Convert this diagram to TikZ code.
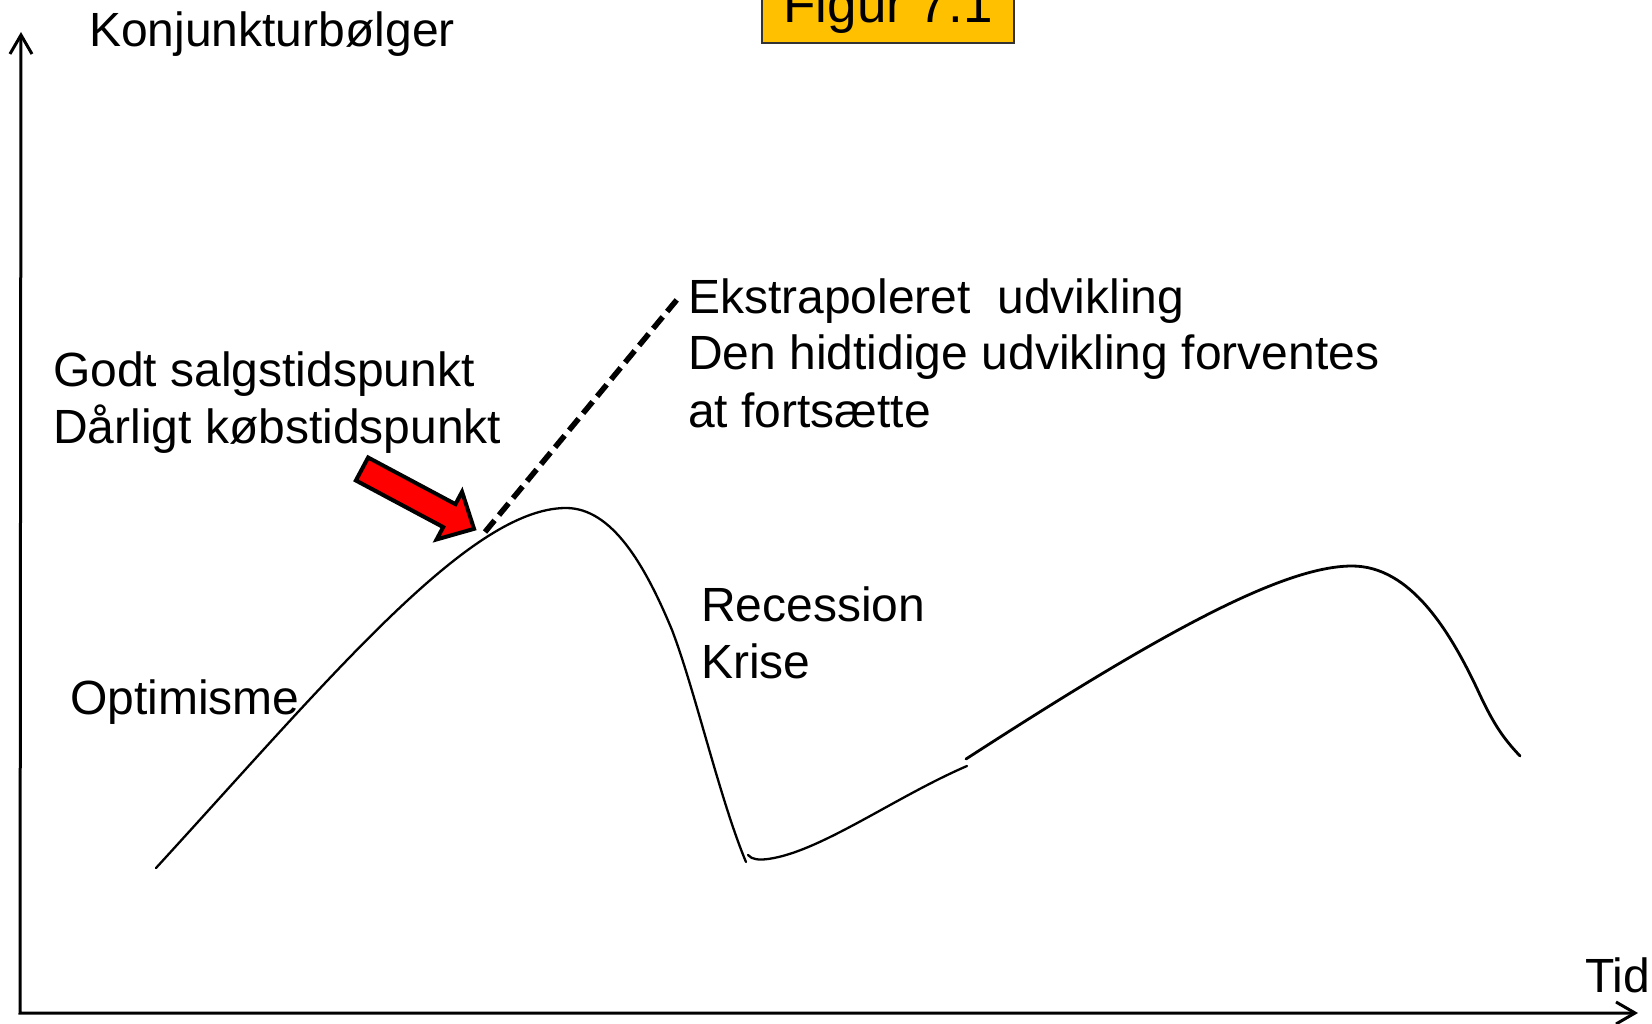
\documentclass[tikz,border=0pt]{standalone}
\usepackage{fontspec}
\setmainfont{Liberation Sans}
\usetikzlibrary{arrows.meta}
\definecolor{titlefill}{HTML}{FFC000}
\begin{document}
\begin{tikzpicture}[x=1pt,y=-1pt,
  lbl/.style={anchor=base west, inner sep=0pt, font=\fontsize{48}{57}\selectfont},
  titlebox/.style={draw=black!80, line width=2pt, fill=titlefill, minimum width=252pt, minimum height=69pt, inner sep=0pt, font=\fontsize{53}{60}\selectfont},
  axisline/.style={line width=3pt, {Straight Barb[length=19pt,width=22pt]}-{Straight Barb[length=19pt,width=22pt]}},
  wave/.style={line width=2.3pt, line cap=round, line join=round},
  extrap/.style={line width=5.5pt, dash pattern=on 15pt off 7pt},
  blockarrow/.style={fill=red, draw=black, line width=4pt, line join=miter}
]
\useasboundingbox (0,0) rectangle (1652,1024);
\fill[white] (0,0) rectangle (1652,1024);

% axes
\coordinate (ytip) at (21,32);
\coordinate (orig) at (20,1013);
\coordinate (xtip) at (1638,1013);
\draw[axisline] (ytip) -- (orig) -- (xtip);

% title
\node[titlebox] (title) at (888,8.5) {Figur 7.1};

% labels
\node[lbl] (yl) at (89,47) {Konjunkturbølger};
\node[lbl] (godt) at (53,386) {Godt salgstidspunkt};
\node[lbl] (daar) at (53,443) {Dårligt købstidspunkt};
\node[lbl] (opt) at (70,714) {Optimisme};
\node[lbl] (ekst) at (688,313) {Ekstrapoleret\ \ udvikling};
\node[lbl] (den) at (688,370) {Den hidtidige udvikling forventes};
\node[lbl] (fort) at (688,427) {at fortsætte};
\node[lbl] (rec) at (701,621) {Recession};
\node[lbl] (kri) at (701,678) {Krise};
\node[lbl] (tid) at (1585,992) {Tid};

% business cycle curve
\draw[wave] (156,868) .. controls (330,678) and (470,508) .. (566,508)
  .. controls (612,508) and (645,565) .. (672,630)
  .. controls (695,690) and (720,800) .. (746,862);
\draw[wave] (748,855) .. controls (752,860) and (760,860) .. (768,859)
  .. controls (820,852) and (895,797) .. (967,766);
\draw[wave, line width=2.8pt] (966,759) .. controls (1150,640) and (1280,566) .. (1352,566)
  .. controls (1410,566) and (1450,630) .. (1480,695)
  .. controls (1495,727) and (1505,740) .. (1520,756);

% extrapolated development
\coordinate (dashA) at (485,532);
\coordinate (dashB) at (680,296);
\draw[extrap] (dashA) -- (dashB);

% red block arrow
\begin{scope}[shift={(362,469)}, rotate=-28.1]
\draw[blockarrow] (0,-13) -- (99,-13) -- (99,-27) -- (127,0) -- (99,27) -- (99,13) -- (0,13) -- cycle;
\end{scope}
\end{tikzpicture}
\end{document}
